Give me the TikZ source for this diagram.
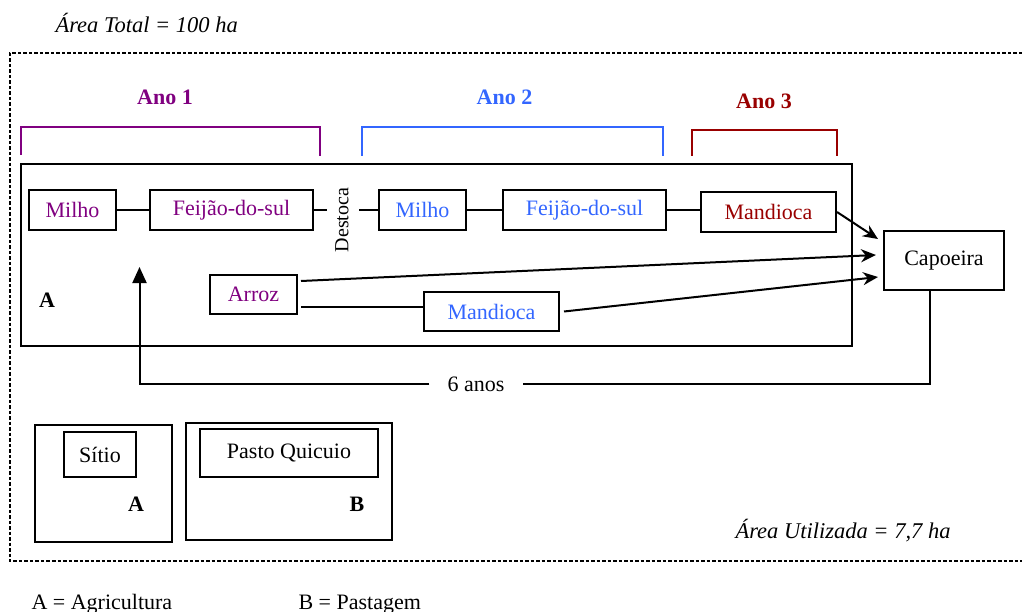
\documentclass[tikz,border=0pt]{standalone}
\usepackage{fontspec}
\setmainfont{Liberation Serif}
\usetikzlibrary{arrows.meta,calc}
\definecolor{anoA}{RGB}{128,0,128}
\definecolor{anoB}{RGB}{51,102,255}
\definecolor{anoC}{RGB}{153,0,0}
\begin{document}
\begin{tikzpicture}[x=1pt,y=-1pt,
  every node/.style={font=\fontsize{22}{26}\selectfont},
  crop/.style={draw=black,line width=2pt,inner sep=0pt,minimum height=40pt},
  box/.style={draw=black,line width=2pt},
  link/.style={line width=2pt},
  flow/.style={line width=2pt,-{Stealth[length=15pt,width=13pt]}},
  bracket/.style={line width=2pt},
  yearlabel/.style={font=\fontsize{22}{26}\selectfont\bfseries,anchor=base},
  tag/.style={font=\fontsize{22}{26}\selectfont\bfseries},
  note/.style={font=\fontsize{22.5}{26}\selectfont\itshape,anchor=base west},
]
\useasboundingbox (0,0) rectangle (1022,612);

% property boundary
\draw[line width=1.1pt,dash pattern=on 3.5pt off 2pt] (1022,53) -- (10,53) -- (10,561) -- (1022,561);
\node[note] (total) at (52,33) {Área Total = 100 ha};
\node[note] (util) at (732,538) {Área Utilizada = 7,7 ha};

% year brackets
\draw[bracket,anoA] (21,155) |- (320,127) -- (320,156);
\draw[bracket,anoB] (362,156) |- (663,127) -- (663,156);
\draw[bracket,anoC] (692,156) |- (837,130) -- (837,156);
\node[yearlabel,text=anoA] (y1) at (165,105) {Ano 1};
\node[yearlabel,text=anoB] (y2) at (504.5,105) {Ano 2};
\node[yearlabel,text=anoC] (y3) at (764,109) {Ano 3};

% agriculture area
\draw[box] (21,164) rectangle (852,346);
\node[tag] (areaA) at (47,300) {A};

% crop sequence
\node[crop,text=anoA,minimum width=87pt] (m1) at (72.5,210) {Milho};
\node[crop,text=anoA,minimum width=163pt] (f1) at (231.5,210) {Feijão-do-sul};
\node[rotate=90,inner sep=0pt,font=\fontsize{20}{24}\selectfont] (dst) at (342,220) {Destoca};
\node[crop,text=anoB,minimum width=87pt] (m2) at (422.5,210) {Milho};
\node[crop,text=anoB,minimum width=163pt] (f2) at (584.5,210) {Feijão-do-sul};
\node[crop,text=anoC,minimum width=135pt] (md3) at (768.5,212) {Mandioca};
\node[crop,text=anoA,minimum width=87pt,minimum height=39pt] (arroz) at (253.5,294.5) {Arroz};
\node[crop,text=anoB,minimum width=135pt,minimum height=39pt] (md2) at (491.5,311.5) {Mandioca};
\node[crop,minimum width=120pt,minimum height=59pt] (cap) at (944,260.5) {Capoeira};

\draw[link] (m1) -- (f1);
\draw[link] (f1.east) -- ++(13,0);
\draw[link] (m2.west) -- ++(-19,0);
\draw[link] (m2) -- (f2);
\draw[link] (f2.east) -- (f2.east -| md3.west);
\draw[link] ($(arroz.east)+(3,12.5)$) coordinate (rl) -- (rl -| md2.west);

% fallow transitions
\draw[flow] (md3.east) -- ($(cap.west)+(-5,-21.5)$);
\draw[flow] ($(arroz.east)+(3,-13.5)$) -- ($(cap.west)+(-7,-5.5)$);
\draw[flow] ($(md2.east)+(4,0)$) -- ($(cap.west)+(-5,16.5)$);

% return after fallow
\node[inner xsep=18pt,inner ysep=0pt] (six) at (476,384) {6 anos};
\coordinate (back) at (139.5,267);
\draw[link] ($(cap.south)+(-14,0)$) |- (six.east);
\draw[link,-{Triangle[length=16pt,width=14pt]}] (six.west) -| (back);

% homestead and pasture
\draw[box] (35,425) rectangle (172,542);
\node[crop,minimum width=72pt,minimum height=45pt] (sitio) at (100,454.5) {Sítio};
\node[tag] (tagA) at (136,504) {A};
\draw[box] (186,423) rectangle (392,540);
\node[crop,minimum width=178pt,minimum height=48pt] (pasto) at (289,453) {Pasto Quicuio};
\node[tag] (tagB) at (357,504) {B};

% legend
\node[anchor=base west] (lega) at (28,609) {A = Agricultura};
\node[anchor=base west] (legb) at (295,609) {B = Pastagem};
\end{tikzpicture}
\end{document}
